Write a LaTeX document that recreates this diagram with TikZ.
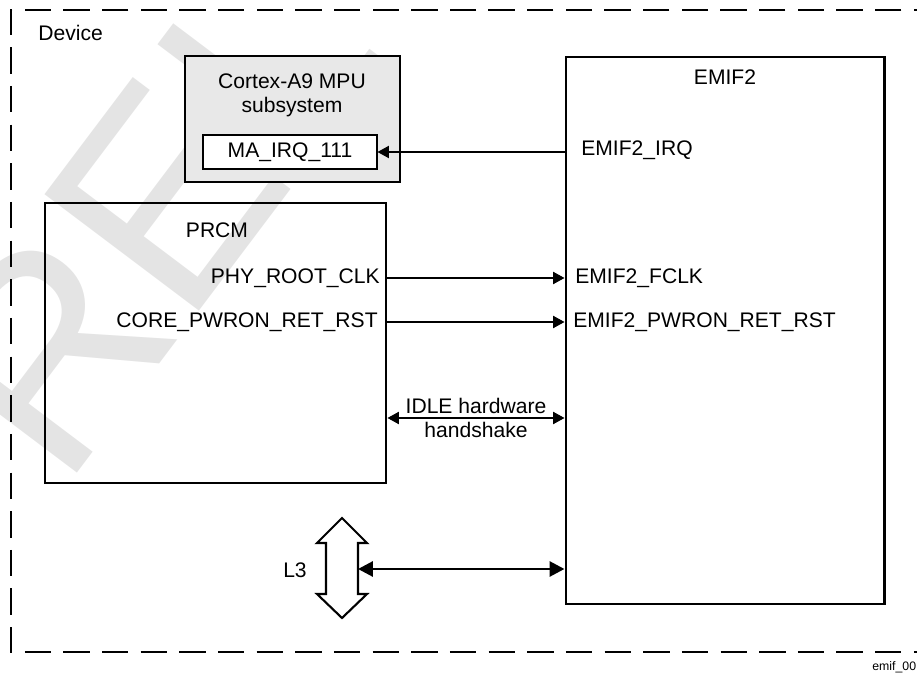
\documentclass[tikz,border=0pt]{standalone}
\usepackage{fontspec}
\setmainfont{Liberation Sans}
\usetikzlibrary{arrows.meta,positioning,fit}
\definecolor{mpufill}{HTML}{E8E8E8}
\definecolor{wmgray}{HTML}{E4E4E4}

\begin{document}
\begin{tikzpicture}[x=0.02cm, y=-0.02cm,
    blk/.style={draw, line width=1.7pt, inner sep=0pt},
    reg/.style={draw, line width=0.6pt, fill=white, inner sep=0pt},
    lbl/.style={font=\fontsize{12}{13.6}\selectfont, inner sep=0pt, align=center},
    sig/.style={-{Triangle[length=6.5pt,width=7pt]}, line width=0.6pt},
    hs/.style={{Triangle[length=6.5pt,width=7pt]}-{Triangle[length=6.5pt,width=7pt]}, line width=0.6pt},
    bus/.style={{Triangle[length=8.5pt,width=8.5pt]}-{Triangle[length=8.5pt,width=8.5pt]}, line width=1.7pt},
    devframe/.style={line width=1.1pt, dash pattern=on 15pt off 7pt}
]
\useasboundingbox (0,0) rectangle (917,675);
\clip (0,0) rectangle (917,675);

% watermark
\node[rotate=53, text=wmgray, font=\fontsize{160}{160}\selectfont, inner sep=0pt, anchor=base west] (wm) at (63,492) {REL};

% device frame
\draw[devframe] (940,10) -- (11,10) -- (11,652) -- (940,652);
\node[lbl, anchor=west] (dev) at (38,33) {Device};
\node[font=\fontsize{7}{8}\selectfont, inner sep=0pt, anchor=base west] (fig) at (872,670) {emif\_00};

% blocks
\node[blk, fill=mpufill, fit={(185,56) (400,182)}] (mpu) {};
\node[lbl] (mputxt) at (292,95) {Cortex-A9 MPU\\subsystem};
\node[reg, fit={(203,135) (377,169)}] (mairq) {};
\node[lbl] at (mairq.center) {MA\_IRQ\_111};

\node[blk, fit={(45,203) (386,483)}] (prcm) {};
\node[lbl] (prcmtxt) at (217,230) {PRCM};
\node[lbl, anchor=east] (clkout) at (380,278) {PHY\_ROOT\_CLK};
\node[lbl, anchor=east] (rstout) at (378,322) {CORE\_PWRON\_RET\_RST};

\node[blk, fit={(566,57) (884,604)}] (emif) {};
\node[lbl] (emiftxt) at (725,77) {EMIF2};
\node[lbl, anchor=west] (irqport) at (581,150) {EMIF2\_IRQ};
\node[lbl, anchor=west] (clkin) at (575,278) {EMIF2\_FCLK};
\node[lbl, anchor=west] (rstin) at (573,322) {EMIF2\_PWRON\_RET\_RST};

% L3 interconnect
\draw[line width=1.2pt, fill=white] (342,518) -- (367,543) -- (358,543) -- (358,594) -- (367,594)
    -- (342,618) -- (317,594) -- (326,594) -- (326,543) -- (317,543) -- cycle;
\coordinate (l3port) at (358,569);
\node[lbl] (l3txt) at (295,570) {L3};

% connections
\draw[sig] (mairq.east -| emif.west) -- (mairq.east);
\draw[sig] (clkout.east -| prcm.east) -- (clkout.east -| emif.west);
\draw[sig] (rstout.east -| prcm.east) -- (rstout.east -| emif.west);
\draw[hs] (prcm.east |- 0,418) -- node[lbl] (idle) {IDLE hardware\\handshake} (emif.west |- 0,418);
\draw[bus] (l3port) -- (l3port -| emif.west);
\end{tikzpicture}
\end{document}
